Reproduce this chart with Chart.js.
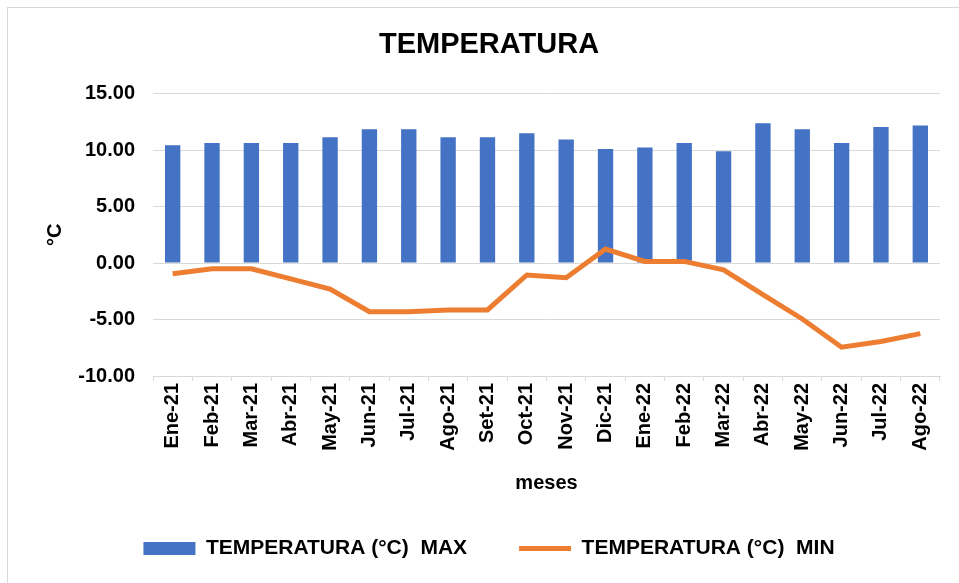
<!DOCTYPE html>
<html>
<head>
<meta charset="utf-8">
<script src="https://cdn.jsdelivr.net/npm/chart.js@4/dist/chart.umd.min.js"></script>
<style>
  html, body { margin: 0; padding: 0; background: #fff; overflow: hidden; }
  #wrap { position: relative; width: 959px; height: 583px; }
  #frame {
    position: absolute; left: 7px; top: 7px; width: 1000px; height: 1000px;
    border: 1px solid #d9d9d9; pointer-events: none;
  }
</style>
</head>
<body>
<div id="wrap">
  <canvas id="tempChart" width="959" height="583"></canvas>
  <div id="frame"></div>
</div>
<script>
// months on the x axis
const meses = ["Ene-21", "Feb-21", "Mar-21", "Abr-21", "May-21", "Jun-21", "Jul-21",
  "Ago-21", "Set-21", "Oct-21", "Nov-21", "Dic-21", "Ene-22", "Feb-22", "Mar-22",
  "Abr-22", "May-22", "Jun-22", "Jul-22", "Ago-22"];

// max temperature (bars)
const tempMax = [10.45, 10.65, 10.65, 10.65, 11.15, 11.85, 11.85, 11.15, 11.15, 11.5,
  10.95, 10.1, 10.25, 10.65, 9.9, 12.4, 11.85, 10.65, 12.05, 12.2];

// min temperature (line)
const tempMin = [-0.95, -0.5, -0.5, -1.4, -2.3, -4.3, -4.3, -4.15, -4.15, -1.05,
  -1.3, 1.25, 0.15, 0.15, -0.6, -2.8, -4.95, -7.45, -6.95, -6.25];

const labelMax = "TEMPERATURA (°C)  MAX";
const labelMin = "TEMPERATURA (°C)  MIN";

const azul = "#4472C4";
const naranja = "#ED7D31";
const gris = "#d9d9d9";
const fuente = "'Liberation Sans', Arial, sans-serif";

Chart.defaults.font.family = fuente;
Chart.defaults.color = "#000";

const config = {
  type: "bar",
  data: {
    labels: meses,
    datasets: [
      {
        type: "bar",
        label: labelMax,
        data: tempMax,
        backgroundColor: azul,
        barPercentage: 0.39,
        categoryPercentage: 1,
        order: 2,
      },
      {
        type: "line",
        label: labelMin,
        data: tempMin,
        borderColor: naranja,
        backgroundColor: naranja,
        borderWidth: 5,
        pointRadius: 0,
        tension: 0,
        order: 1,
      },
    ],
  },
  options: {
    responsive: false,
    animation: false,
    layout: { padding: { left: 38, right: 19, top: 0, bottom: 14 } },
    plugins: {
      title: {
        display: true,
        text: "TEMPERATURA",
        color: "#000",
        font: { size: 29, weight: "bold" },
        padding: { top: 28, bottom: 31 },
      },
      legend: {
        position: "bottom",
        labels: {
          usePointStyle: true,
          pointStyleWidth: 52,
          boxHeight: 13,
          padding: 52,
          color: "#000",
          font: { size: 21, weight: "bold" },
          sort: (a, b) => a.datasetIndex - b.datasetIndex,
          generateLabels: (chart) => {
            const items = Chart.defaults.plugins.legend.labels.generateLabels(chart);
            items.forEach((item) => {
              if (item.datasetIndex === 0) {
                item.pointStyle = "rect";
                item.lineWidth = 0;
              } else {
                item.pointStyle = "line";
                item.lineWidth = 5;
                item.strokeStyle = naranja;
              }
            });
            return items;
          },
        },
      },
      tooltip: { enabled: false },
    },
    scales: {
      x: {
        afterFit: (scale) => { scale.height = 110; },
        grid: {
          display: true,
          drawOnChartArea: false,
          offset: true,
          color: gris,
          tickLength: 5,
        },
        border: { color: gris },
        ticks: {
          autoSkip: false,
          minRotation: 90,
          maxRotation: 90,
          padding: 2,
          color: "#000",
          font: { size: 20, weight: "bold" },
        },
        title: {
          display: true,
          text: "meses",
          color: "#000",
          font: { size: 20, weight: "bold" },
          padding: { top: 0, bottom: -9 },
        },
      },
      y: {
        min: -10,
        max: 15,
        afterFit: (scale) => { scale.width = 115; },
        grid: { color: gris, drawTicks: false },
        border: { display: false },
        ticks: {
          stepSize: 5,
          padding: 18,
          color: "#000",
          font: { size: 20, weight: "bold" },
          callback: (v) => Number(v).toFixed(2),
        },
        title: {
          display: true,
          text: "°C",
          color: "#000",
          font: { size: 20, weight: "bold" },
          padding: { top: 5, bottom: 4 },
        },
      },
    },
  },
};

window.onload = function () {
  const ctx = document.getElementById("tempChart").getContext("2d");
  window.tempChart = new Chart(ctx, config);
};
</script>
</body>
</html>
